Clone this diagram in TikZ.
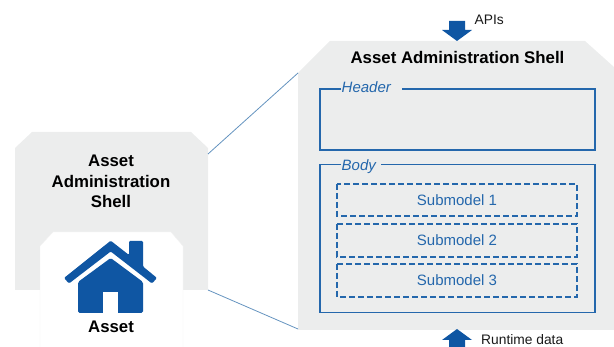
\documentclass[tikz,border=0pt]{standalone}
\usepackage{fontspec}
\setmainfont{Liberation Sans}
\definecolor{shellgray}{HTML}{ECEDED}
\definecolor{assetblue}{HTML}{0F56A3}
\definecolor{boxblue}{HTML}{2467AC}
\definecolor{zoomblue}{HTML}{6493BF}
\tikzset{
	boldlabel/.style={font=\bfseries\fontsize{16.8}{20.5}\selectfont, text=black, align=center},
	bluelabel/.style={font=\fontsize{15}{18}\selectfont, text=boxblue},
	sectionlabel/.style={font=\itshape\fontsize{15}{18}\selectfont, text=boxblue, anchor=west, inner sep=0pt},
	plainlabel/.style={font=\fontsize{13.8}{16}\selectfont, text=black!90, anchor=west, inner sep=0pt},
	sectionbox/.style={draw=boxblue, line width=1.1pt},
	submodelbox/.style={draw=boxblue, line width=1.1pt, dash pattern=on 6pt off 3pt},
}
\def\bluearrow(#1,#2,#3){\fill[assetblue] (#1-8,#2) -- (#1+8,#2) -- (#1+8,#2+#3*9) -- (#1+15,#2+#3*9) -- (#1,#2+#3*20) -- (#1-15,#2+#3*9) -- (#1-8,#2+#3*9) -- cycle;}

\begin{document}
\begin{tikzpicture}[x=1pt, y=-1pt]
	\useasboundingbox (0, 0) rectangle (614, 347);
	%%%%% SHELLS %%%%%
	\fill[shellgray] (15, 148) -- (32, 132) -- (191, 132) -- (208, 148) -- (208, 290) -- (15, 290) -- cycle;
	\fill[shellgray] (298, 73) -- (330, 41) -- (585, 41) -- (614, 67) -- (614, 330) -- (298, 330) -- cycle;
	\draw[draw=black!6, fill=white] (40, 347) -- (40, 246) -- (53, 232) -- (171, 232) -- (183, 246) -- (183, 347);

	\coordinate (smallTop) at (208, 154);
	\coordinate (bigTop) at (298, 73);
	\coordinate (smallBottom) at (208, 290);
	\coordinate (bigBottom) at (298, 329);
	\draw[zoomblue, line width=0.8pt] (smallTop) -- (bigTop);
	\draw[zoomblue, line width=0.8pt] (smallBottom) -- (bigBottom);

	%%%%% HOUSE %%%%%
	\fill[assetblue, rounded corners=1.2pt] (64, 278) -- (110.7, 240.7) -- (129, 255) -- (129, 241) -- (143, 241) -- (143, 266.5) -- (157, 278) -- (152, 283.5) -- (110.7, 251.5) -- (69, 283.5) -- cycle;
	\fill[assetblue, rounded corners=1.5pt] (78, 313) -- (78, 282) -- (110.7, 258) -- (143, 282) -- (143, 313) -- cycle;
	\fill[white] (103, 292) rectangle (118, 313.5);

	\node[boldlabel] (assetShellLabel) at (111, 181.5) {Asset\\Administration\\Shell};
	\node[boldlabel] (assetLabel) at (111, 327) {Asset};
	\node[boldlabel] (shellTitle) at (457.5, 57) {Asset Administration Shell};

	%%%%% BOXES %%%%%
	\draw[sectionbox] (341, 89) -- (320, 89) -- (320, 150) -- (595, 150) -- (595, 89) -- (402, 89);
	\node[sectionlabel] (headerLabel) at (341.5, 87.5) {Header};
	\draw[sectionbox] (341, 164.5) -- (320, 164.5) -- (320, 312.5) -- (595, 312.5) -- (595, 164.5) -- (381, 164.5);
	\node[sectionlabel] (bodyLabel) at (341.5, 166.5) {Body};

	\foreach \n/\ytop/\ybot in {1/184/216, 2/224/257, 3/264/297} {
		\draw[submodelbox] (337, \ytop) rectangle (577, \ybot);
		\node[bluelabel] (submodel\n) at (457, {(\ytop+\ybot)/2}) {Submodel \n};
	}

	%%%%% ARROWS %%%%%
	\bluearrow(457,21,1)
	\bluearrow(457,349,-1)
	\node[plainlabel] (apisLabel) at (474.5, 20) {APIs};
	\node[plainlabel] (runtimeLabel) at (481, 340) {Runtime data};
\end{tikzpicture}
\end{document}
